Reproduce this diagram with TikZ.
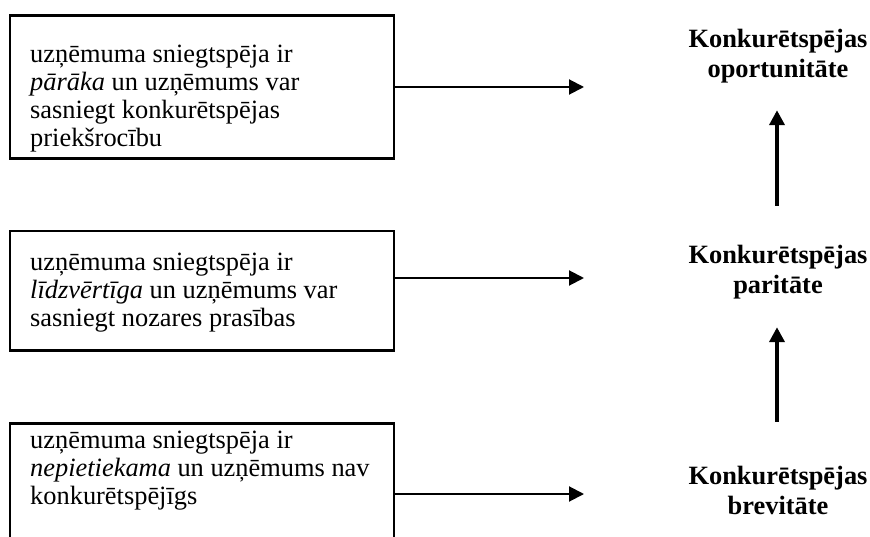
\documentclass[tikz,border=0pt]{standalone}
\usepackage{fontspec}
\setmainfont{Liberation Serif}
\usetikzlibrary{arrows.meta}
\begin{document}
\begin{tikzpicture}[x=1pt,y=-1pt,
  leftbox/.style={draw, line width=2.5pt, minimum width=384pt, inner sep=0pt, anchor=north west},
  boxtext/.style={inner sep=0pt, anchor=base west, font=\fontsize{26.4}{28}\selectfont},
  lbl/.style={inner sep=0pt, anchor=base, font=\fontsize{26.4}{30}\selectfont\bfseries},
  harrow/.style={line width=2pt, -{Triangle[length=15pt,width=15pt]}},
  varrow/.style={line width=4pt, -{Triangle[length=15pt,width=15pt]}}]
\useasboundingbox (0,0) rectangle (870,537);
\clip (0,0) rectangle (870,537);

% left boxes
\node[leftbox, minimum height=143pt] (b1) at (8.7,14.5) {};
\node[leftbox, minimum height=119pt] (b2) at (8.7,230) {};
\node[leftbox, minimum height=140pt] (b3) at (8.7,422) {};

\node[boxtext] (t1) at (30,63) {\parbox[t]{362pt}{\raggedright uzņēmuma sniegtspēja ir\\ \textit{pārāka} un uzņēmums var\\ sasniegt konkurētspējas\\ priekšrocību}};
\node[boxtext] (t2) at (30,271) {\parbox[t]{362pt}{\raggedright uzņēmuma sniegtspēja ir\\ \textit{līdzvērtīga} un uzņēmums var\\ sasniegt nozares prasības}};
\node[boxtext] (t3) at (30,448) {\parbox[t]{362pt}{\raggedright uzņēmuma sniegtspēja ir\\ \textit{nepietiekama} un uzņēmums nav\\ konkurētspējīgs}};

% right labels
\node[lbl] (opp) at (778,48) {\parbox[t]{220pt}{\centering\strut Konkurētspējas\\\strut oportunitāte}};
\node[lbl] (par) at (778,264) {\parbox[t]{220pt}{\centering\strut Konkurētspējas\\\strut paritāte}};
\node[lbl] (brev) at (778,484) {\parbox[t]{220pt}{\centering\strut Konkurētspējas\\\strut brevitāte}};

% horizontal arrows
\coordinate (e1) at (584,87);
\coordinate (e2) at (584,278);
\coordinate (e3) at (584,494);
\draw[harrow] (b1.east |- e1) -- (e1);
\draw[harrow] (b2.east |- e2) -- (e2);
\draw[harrow] (b3.east |- e3) -- (e3);

% vertical arrows
\draw[varrow, shorten <=37pt, shorten >=23pt] ([xshift=-1pt]par.north) -- ([xshift=-1pt]opp.south);
\draw[varrow, shorten <=41pt, shorten >=24pt] ([xshift=-1pt]brev.north) -- ([xshift=-1pt]par.south);
\end{tikzpicture}
\end{document}
